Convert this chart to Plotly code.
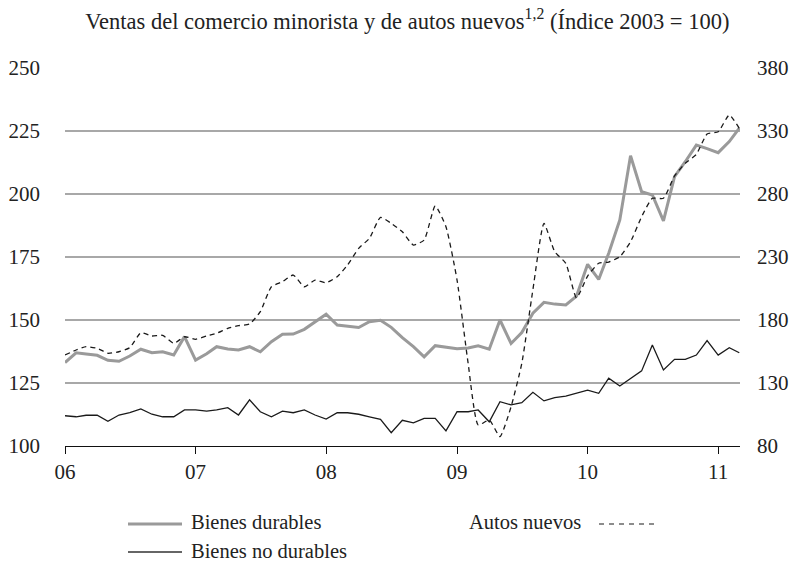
import pandas as pd
import plotly.graph_objects as go

# ---- data (monthly, Jan 2006 - Mar 2011) ----
months = pd.date_range("2006-01-01", periods=63, freq="MS")

bienes_durables = [
    133.1, 137.0, 136.5, 136.0, 134.0, 133.6, 135.7, 138.4, 137.0, 137.4, 136.1, 143.4,
    134.1, 136.6, 139.4, 138.5, 138.1, 139.4, 137.4, 141.4, 144.3, 144.4, 146.3, 149.3,
    152.3, 148.0, 147.5, 147.0, 149.3, 149.9, 147.1, 143.0, 139.4, 135.4, 139.8, 139.2,
    138.6, 138.9, 139.8, 138.4, 150.0, 140.7, 145.0, 152.7, 157.0, 156.3, 156.0, 159.5,
    172.1, 166.1, 176.5, 189.7, 215.2, 200.9, 199.6, 189.3, 206.9, 212.8, 219.4, 218.0,
    216.4, 220.8, 226.1,
]
bienes_no_durables = [
    112.0, 111.6, 112.2, 112.2, 109.8, 112.3, 113.2, 114.7, 112.6, 111.6, 111.6, 114.3,
    114.3, 113.8, 114.3, 115.2, 112.3, 118.3, 113.6, 111.6, 113.8, 113.2, 114.3, 112.3,
    110.7, 113.2, 113.2, 112.6, 111.6, 110.6, 105.3, 110.2, 109.2, 111.0, 111.0, 106.0,
    113.6, 113.6, 114.3, 109.6, 117.6, 116.3, 117.2, 121.3, 117.9, 119.2, 119.8, 121.0,
    122.2, 120.9, 126.9, 123.8, 126.9, 129.8, 140.1, 130.2, 134.4, 134.4, 136.1, 141.8,
    136.1, 139.0, 137.0,
]
autos_nuevos = [
    152.2, 156.2, 158.8, 157.5, 153.6, 154.8, 158.0, 169.9, 167.3, 167.8, 161.5, 166.7,
    164.7, 167.3, 169.4, 173.4, 175.5, 176.8, 186.6, 206.4, 210.4, 215.7, 206.4, 211.7,
    209.6, 214.4, 223.7, 236.9, 244.8, 261.5, 256.7, 250.0, 239.5, 243.5, 270.5, 254.0,
    211.7, 145.6, 96.7, 100.6, 87.4, 111.2, 145.6, 204.0, 256.7, 234.2, 225.0, 197.5,
    214.9, 225.0, 226.0, 230.2, 242.1, 262.0, 276.6, 276.6, 294.3, 304.4, 311.5, 327.6,
    329.4, 342.7, 332.1,
]

year_ticks = pd.to_datetime(["2006-01-01", "2007-01-01", "2008-01-01",
                             "2009-01-01", "2010-01-01", "2011-01-01"])
year_labels = ["06", "07", "08", "09", "10", "11"]
left_ticks = [100, 125, 150, 175, 200, 225, 250]
right_ticks = [80, 130, 180, 230, 280, 330, 380]

FONT = "Liberation Serif"
GRAY = "#9a9a9a"
TXT = "#222222"

fig = go.Figure()
fig.add_trace(go.Scatter(x=months, y=bienes_no_durables, mode="lines",
                         line=dict(color="#1a1a1a", width=1.3), name="Bienes no durables"))
fig.add_trace(go.Scatter(x=months, y=bienes_durables, mode="lines",
                         line=dict(color=GRAY, width=3), name="Bienes durables"))
fig.add_trace(go.Scatter(x=months, y=autos_nuevos, mode="lines", yaxis="y2",
                         line=dict(color="#1a1a1a", width=1.3, dash="5px,4px",
                                   shape="spline", smoothing=0.5),
                         name="Autos nuevos"))

# manual legend (positions relative to the plot area, in page pixels)
def py(p):
    return (446 - p) / 378.0

def px(p):
    return (p - 65) / 675.0

LEG = dict(family=FONT, size=20.5, color=TXT)
shapes = [
    dict(type="line", xref="paper", yref="paper", x0=px(128), x1=px(182), y0=py(524), y1=py(524),
         line=dict(color=GRAY, width=3)),
    dict(type="line", xref="paper", yref="paper", x0=px(128), x1=px(182), y0=py(552), y1=py(552),
         line=dict(color="#333333", width=1.5)),
    dict(type="line", xref="paper", yref="paper", x0=px(599), x1=px(654), y0=py(524), y1=py(524),
         line=dict(color="#1a1a1a", width=1.1, dash="5px,5px")),
]
annotations = [
    dict(text="Bienes durables", xref="paper", yref="paper", x=px(189), y=py(522),
         xanchor="left", yanchor="middle", showarrow=False, font=LEG),
    dict(text="Bienes no durables", xref="paper", yref="paper", x=px(189), y=py(551),
         xanchor="left", yanchor="middle", showarrow=False, font=LEG),
    dict(text="Autos nuevos", xref="paper", yref="paper", x=px(467), y=py(522),
         xanchor="left", yanchor="middle", showarrow=False, font=LEG),
]

# the page body adds an 8px offset; figure is sized to fill the 802x564 window
fig.update_layout(
    width=794, height=556,
    margin=dict(l=57, r=62, t=60, b=118, autoexpand=False),
    paper_bgcolor="white", plot_bgcolor="white",
    showlegend=False,
    title=dict(text="Ventas del comercio minorista y de autos nuevos<sup>1,2</sup> (Índice 2003 = 100)",
               x=0.503, xanchor="center", y=1 - 13 / 556, yanchor="middle",
               font=dict(family=FONT, size=22.5, color=TXT)),
    xaxis=dict(range=["2006-01-01", "2011-03-03"], tickvals=year_ticks, ticktext=year_labels,
               showgrid=False, zeroline=False, showline=True, linecolor="#111", linewidth=1.2,
               ticks="outside", ticklen=7, tickcolor="#111", tickwidth=1, automargin=False,
               tickfont=dict(family=FONT, size=21, color=TXT)),
    yaxis=dict(range=[100, 250], tickvals=left_ticks, showgrid=True, gridcolor="#a8a8a8",
               gridwidth=1.5, zeroline=False, showline=False, ticks="", automargin=False,
               ticklabelstandoff=24,
               tickfont=dict(family=FONT, size=21, color=TXT)),
    yaxis2=dict(range=[80, 380], tickvals=right_ticks, overlaying="y", side="right",
                showgrid=False, zeroline=False, showline=False, ticks="", automargin=False,
                ticklabelstandoff=16,
                tickfont=dict(family=FONT, size=21, color=TXT)),
    shapes=shapes,
    annotations=annotations,
)

fig.write_html("out.html")
